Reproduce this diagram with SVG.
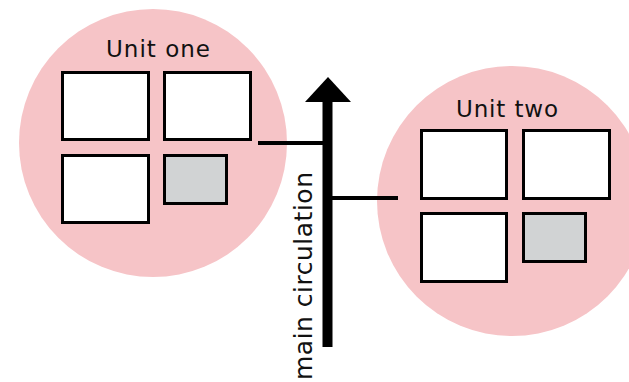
<svg xmlns="http://www.w3.org/2000/svg" width="629" height="382" viewBox="0 0 629 382">
<defs>
<style>
.zone{fill:#F6C4C7;}
.room{fill:#FFFFFF;stroke:#000;stroke-width:3;}
.service{fill:#D1D3D4;stroke:#000;stroke-width:3;}
.lbl{font-family:"DejaVu Sans",sans-serif;font-size:23px;fill:#111;}
.conn{stroke:#000;stroke-width:4;fill:none;}
</style>
</defs>
<rect width="629" height="382" fill="#FFFFFF"/>
<g id="unit-one">
<circle class="zone" cx="153" cy="143" r="134"/>
<text class="lbl" x="158" y="57" text-anchor="middle" textLength="104">Unit one</text>
<rect class="room" x="62.5" y="72.5" width="86" height="67"/>
<rect class="room" x="164.5" y="72.5" width="86" height="67"/>
<rect class="room" x="62.5" y="155.5" width="86" height="67"/>
<rect class="service" x="164.5" y="155.5" width="62" height="48"/>
</g>
<g id="unit-two">
<circle class="zone" cx="512" cy="201" r="135"/>
<text class="lbl" x="507" y="117" text-anchor="middle" textLength="102">Unit two</text>
<rect class="room" x="421.5" y="130.5" width="85" height="68"/>
<rect class="room" x="523.5" y="130.5" width="86" height="68"/>
<rect class="room" x="421.5" y="213.5" width="85" height="68"/>
<rect class="service" x="523.5" y="213.5" width="62" height="48"/>
</g>
<g id="connectors">
<line class="conn" x1="258" y1="143" x2="324" y2="143"/>
<line class="conn" x1="332" y1="198" x2="398" y2="198"/>
</g>
<g id="main-circulation">
<rect x="322.5" y="100" width="10" height="247" fill="#000"/>
<polygon points="328,77 351,102 305,102" fill="#000"/>
<text class="lbl" transform="translate(312,380) rotate(-90)" x="0" y="0" style="font-size:25px" textLength="208">main circulation</text>
</g>
</svg>
